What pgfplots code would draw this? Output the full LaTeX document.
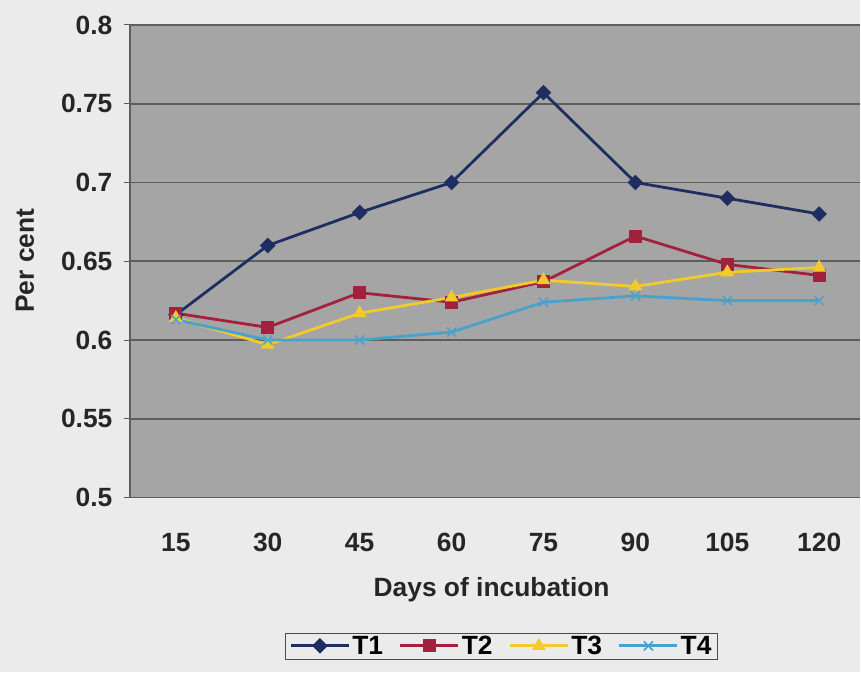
\documentclass[border=0pt]{standalone}
\usepackage{fontspec}
\setmainfont{Liberation Sans}
\usepackage{pgfplots}
\pgfplotsset{compat=1.18}
\usetikzlibrary{backgrounds}

\definecolor{pagebg}{HTML}{EBEBEB}
\definecolor{plotbg}{HTML}{A5A5A5}
\definecolor{gridc}{HTML}{5E5E5E}
\definecolor{cT1}{HTML}{1E2E60}
\definecolor{cT2}{HTML}{A3203F}
\definecolor{cT3}{HTML}{F2CA2C}
\definecolor{cT4}{HTML}{4AA2CC}

\newcommand{\chartfont}{\fontsize{26.5}{31}\selectfont\bfseries}

\begin{document}
\begin{tikzpicture}[x=1bp,y=1bp]
\begin{axis}[
  name=ax,
  scale only axis, width=731bp, height=473bp,
  xmin=0.5, xmax=8.446, ymin=0.5, ymax=0.8,
  axis background/.style={fill=plotbg},
  axis line style={draw=gridc, line width=1.5pt},
  axis x line*=bottom, axis y line*=left,
  xtick={1,...,8},
  xticklabels={15,30,45,60,75,90,105,120},
  major x tick style={draw=none},
  extra x ticks={0.5,1.5,...,7.5},
  extra x tick labels={},
  extra x tick style={tick align=outside, major tick length=6bp,
     tick style={draw=gridc, line width=1pt}, grid=none},
  ytick={0.5,0.55,...,0.8},
  yticklabels={0.5,0.55,0.6,0.65,0.7,0.75,0.8},
  ymajorgrids,
  major grid style={draw=gridc, line width=1.6pt},
  tick align=outside, major tick length=6bp,
  ytick style={draw=gridc, line width=1pt},
  /pgf/number format/assume math mode=true,
  tick label style={font=\chartfont, text=black!85},
  xticklabel style={yshift=-26bp},
  yticklabel style={xshift=-8bp},
  xlabel={Days of incubation},
  ylabel={Per cent},
  label style={font=\chartfont, text=black!85},
  xlabel style={at={(axis description cs:0.4953,-0.194)}, anchor=center},
  ylabel style={at={(axis description cs:-0.1436,0.501)}, anchor=center},
  legend columns=4,
  legend style={at={(axis description cs:0.5089,-0.286)}, anchor=north,
     draw=black!70, fill=pagebg,
     font=\chartfont,
     inner xsep=4bp, inner ysep=1bp,
     /tikz/every even column/.append style={column sep=14bp}},
  legend image code/.code={
     \draw[mark repeat=2, mark phase=2]
       plot coordinates {(0bp,0bp) (29bp,0bp) (58bp,0bp)};},
]
\addplot[cT1, line width=2.8pt, mark=square*, mark size=5bp, mark options={fill=cT1, line width=1pt, rotate=45}]
  coordinates {(1,0.616) (2,0.660) (3,0.681) (4,0.700) (5,0.757) (6,0.700) (7,0.690) (8,0.680)};
\addlegendentry{T1}
\addplot[cT2, line width=2.8pt, mark=square*, mark size=6bp, mark options={fill=cT2, line width=1pt}]
  coordinates {(1,0.617) (2,0.608) (3,0.630) (4,0.624) (5,0.637) (6,0.666) (7,0.648) (8,0.641)};
\addlegendentry{T2}
\addplot[cT3, line width=2.8pt, mark=triangle*, mark size=7bp, mark options={fill=cT3, line width=1pt}]
  coordinates {(1,0.614) (2,0.597) (3,0.617) (4,0.627) (5,0.638) (6,0.634) (7,0.643) (8,0.646)};
\addlegendentry{T3}
\addplot[cT4, line width=2.8pt, mark=x, mark size=6.5bp, mark options={line width=1.5pt}]
  coordinates {(1,0.613) (2,0.600) (3,0.600) (4,0.605) (5,0.624) (6,0.628) (7,0.625) (8,0.625)};
\addlegendentry{T4}
\end{axis}
% page background, placed relative to the plot area
\begin{scope}[on background layer]
  \fill[pagebg] (ax.south west) ++(-130,-175) rectangle ++(861,673);
\end{scope}
\end{tikzpicture}
\end{document}
